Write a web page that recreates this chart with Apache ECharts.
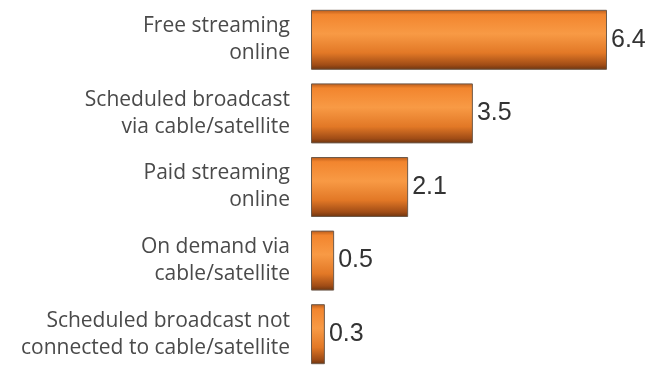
<!DOCTYPE html>
<html><head><meta charset="utf-8">
<script src="https://cdn.jsdelivr.net/npm/echarts@6/dist/echarts.min.js"></script>
<style>html,body{margin:0;padding:0;background:#fff}#c{width:649px;height:371px}</style>
</head><body><div id="c"></div>
<script>
const categories = [
  "Free streaming\nonline",
  "Scheduled broadcast\nvia cable/satellite",
  "Paid streaming\nonline",
  "On demand via\ncable/satellite",
  "Scheduled broadcast not\nconnected to cable/satellite"
];
const values = [6.4, 3.5, 2.1, 0.5, 0.3];

const chart = echarts.init(document.getElementById('c'));
const grad = new echarts.graphic.LinearGradient(0, 0, 0, 1, [
  {offset: 0, color: '#b85a1a'},
  {offset: 0.08, color: '#f2852e'},
  {offset: 0.4, color: '#f89a45'},
  {offset: 0.72, color: '#e27826'},
  {offset: 0.92, color: '#a04c16'},
  {offset: 1, color: '#6a3410'}
]);
chart.setOption({
  animation: false,
  grid: {left: 311, top: 3, width: 323.75, height: 375, containLabel: false},
  xAxis: {type: 'value', min: 0, max: 7, show: false},
  yAxis: {
    type: 'category', data: categories, inverse: true,
    axisLine: {show: false}, axisTick: {show: false},
    axisLabel: {margin: 21, align: 'right', fontFamily: 'Open Sans', fontSize: 21, color: '#4a4a4a', lineHeight: 27, padding: [8, 0, 0, 0]}
  },
  series: [{
    type: 'bar', data: values, barWidth: 60,
    itemStyle: {color: grad, borderColor: '#6e5a4a', borderWidth: 1},
    label: {show: true, position: 'right', distance: 4, fontFamily: 'Liberation Sans', fontSize: 25, color: '#333',
      formatter: p => p.value.toFixed(1)}
  }]
});
</script></body></html>
